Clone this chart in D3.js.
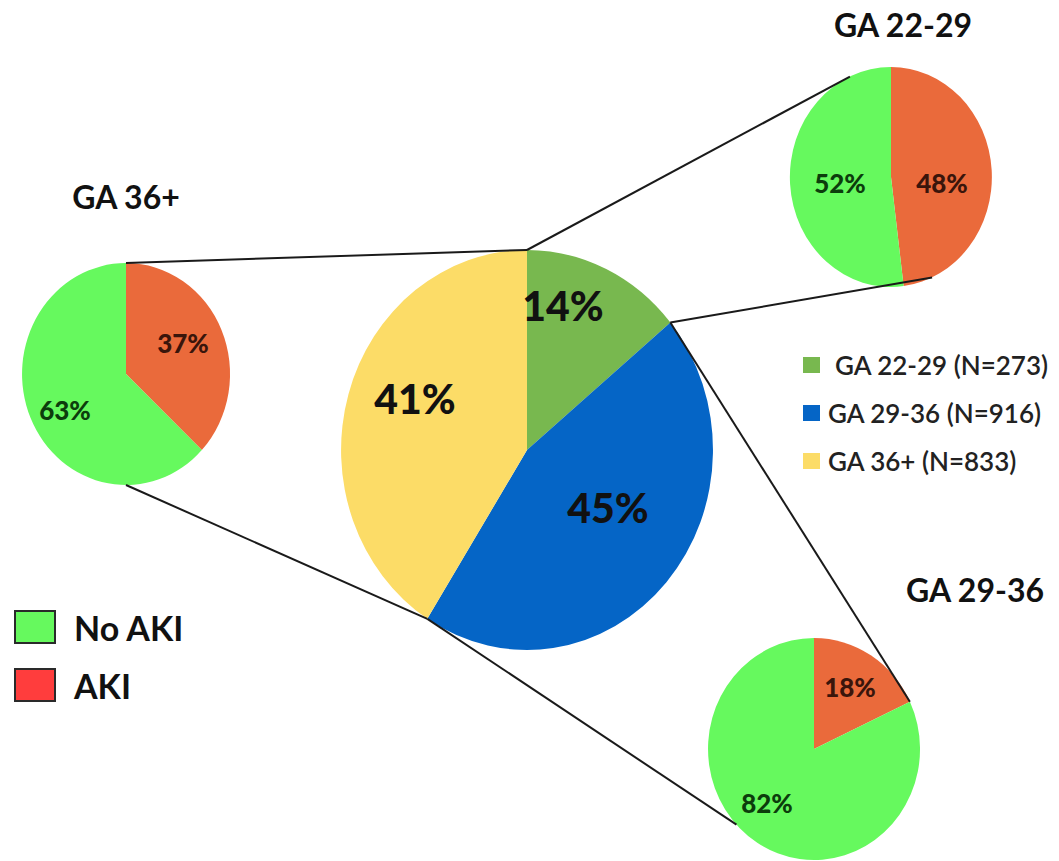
<!DOCTYPE html>
<html>
<head>
<meta charset="utf-8">
<script src="https://cdn.jsdelivr.net/npm/d3@7"></script>
<style>
  html, body { margin: 0; padding: 0; background: #fff; }
  svg { display: block; }
  text { font-family: Lato, "Open Sans", sans-serif; }
</style>
</head>
<body>
<svg id="chart" width="1059" height="861"></svg>
<script>
// Share of births by gestational-age group
const groupNames  = ["GA 22-29", "GA 29-36", "GA 36+"];
const groupCounts = [273, 916, 833];
const groupShares = [14, 45, 41];

// AKI breakdown inside each group (AKI first, then No AKI)
const akiStatus   = ["AKI", "No AKI"];
const akiShares = {
  "GA 22-29": [48, 52],
  "GA 29-36": [18, 82],
  "GA 36+":   [37, 63]
};

const groupColors = ["#78b84f", "#0565c6", "#fcdc67"];
const akiColors   = ["#ea6a3b", "#66f95e"];
const akiLegendColors = ["#ff3d3d", "#66f95e"];
const akiLabelColors  = ["#3a150b", "#0c3d0c"];

const svg = d3.select("#chart");

// Pie layout: centre and (slightly oval) radii
const mainPie = { cx: 527, cy: 450, rx: 186, ry: 200 };
const subPies = {
  "GA 22-29": { cx: 891, cy: 177, rx: 101, ry: 110, title: [903, 24], labels: [[942, 183], [840, 183]] },
  "GA 29-36": { cx: 814, cy: 749, rx: 106, ry: 111, title: [975, 589], labels: [[850, 687], [767, 803]] },
  "GA 36+":   { cx: 126, cy: 374, rx: 104, ry: 111, title: [126, 196], labels: [[183, 343], [65, 410]] }
};
const mainLabelPos = [[563, 305], [608, 507], [415, 398]];

const pie = d3.pie().sort(null).value(d => d);
const unitArc = d3.arc().innerRadius(0).outerRadius(1);

// point on an oval pie rim at angle a (radians, clockwise from 12 o'clock)
function rim(p, a) {
  return [p.cx + p.rx * Math.sin(a), p.cy - p.ry * Math.cos(a)];
}

const mainArcs = pie(groupShares);

// connector lines: main-pie slice boundary -> point on the sub-pie rim
const subAngles = {
  "GA 22-29": [336, 156],
  "GA 29-36": [null, 227],
  "GA 36+":   [0, 180]
};
const toRad = d => d * Math.PI / 180;
const connectors = [];
// GA 22-29 wedge: its start (top) and end angle
connectors.push([rim(mainPie, mainArcs[0].startAngle), rim(subPies["GA 22-29"], toRad(subAngles["GA 22-29"][0]))]);
connectors.push([rim(mainPie, mainArcs[0].endAngle), rim(subPies["GA 22-29"], toRad(subAngles["GA 22-29"][1]))]);
// GA 29-36 wedge: its start joins the AKI/No AKI boundary of the sub pie
const sub2936 = pie(akiShares["GA 29-36"]);
connectors.push([rim(mainPie, mainArcs[1].startAngle), rim(subPies["GA 29-36"], sub2936[0].endAngle)]);
connectors.push([rim(mainPie, mainArcs[1].endAngle), rim(subPies["GA 29-36"], toRad(subAngles["GA 29-36"][1]))]);
// GA 36+ wedge
connectors.push([rim(mainPie, mainArcs[2].endAngle), rim(subPies["GA 36+"], toRad(subAngles["GA 36+"][0]))]);
connectors.push([rim(mainPie, mainArcs[2].startAngle), rim(subPies["GA 36+"], toRad(subAngles["GA 36+"][1]))]);

// main pie
const mg = svg.append("g")
  .attr("transform", `translate(${mainPie.cx},${mainPie.cy}) scale(${mainPie.rx},${mainPie.ry})`);
mg.selectAll("path").data(mainArcs).join("path")
  .attr("d", unitArc)
  .attr("fill", (d, i) => groupColors[i]);

svg.selectAll("text.main-label").data(mainArcs).join("text")
  .attr("class", "main-label")
  .attr("x", (d, i) => mainLabelPos[i][0])
  .attr("y", (d, i) => mainLabelPos[i][1])
  .attr("text-anchor", "middle")
  .attr("dominant-baseline", "central")
  .attr("font-size", 41)
  .attr("font-weight", 900)
  .attr("fill", "#111")
  .text(d => d.data + "%");

// sub pies
groupNames.forEach(name => {
  const p = subPies[name];
  const arcs = pie(akiShares[name]);
  svg.append("g")
    .attr("transform", `translate(${p.cx},${p.cy}) scale(${p.rx},${p.ry})`)
    .selectAll("path").data(arcs).join("path")
    .attr("d", unitArc)
    .attr("fill", (d, i) => akiColors[i]);

  svg.append("g").selectAll("text").data(arcs).join("text")
    .attr("x", (d, i) => p.labels[i][0])
    .attr("y", (d, i) => p.labels[i][1])
    .attr("text-anchor", "middle")
    .attr("dominant-baseline", "central")
    .attr("font-size", 26)
    .attr("font-weight", 900)
    .attr("fill", (d, i) => akiLabelColors[i])
    .text(d => d.data + "%");

  svg.append("text")
    .attr("x", p.title[0])
    .attr("y", p.title[1])
    .attr("text-anchor", "middle")
    .attr("dominant-baseline", "central")
    .attr("font-size", 32)
    .attr("font-weight", 700)
    .attr("fill", "#111")
    .text(name);
});

// connector lines
svg.append("g").selectAll("line").data(connectors).join("line")
  .attr("x1", d => d[0][0]).attr("y1", d => d[0][1])
  .attr("x2", d => d[1][0]).attr("y2", d => d[1][1])
  .attr("stroke", "#1a1a1a")
  .attr("stroke-width", 2);

// group legend (right)
const gl = svg.append("g").attr("transform", "translate(803,365)");
const glRows = gl.selectAll("g").data(groupNames).join("g")
  .attr("transform", (d, i) => `translate(0,${i * 48})`);
glRows.append("rect")
  .attr("x", 0).attr("y", -8).attr("width", 17).attr("height", 16)
  .attr("fill", (d, i) => groupColors[i]);
glRows.append("text")
  .attr("x", (d, i) => i === 0 ? 32 : 25)
  .attr("y", 0)
  .attr("dominant-baseline", "central")
  .attr("font-size", 26)
  .attr("font-weight", 600)
  .attr("fill", "#222")
  .text((d, i) => `${d} (N=${groupCounts[i]})`);

// AKI legend (bottom left)
const al = svg.append("g").attr("transform", "translate(14,610)");
const alRows = al.selectAll("g").data(akiStatus.slice().reverse()).join("g")
  .attr("transform", (d, i) => `translate(0,${i * 58})`);
alRows.append("rect")
  .attr("x", 1).attr("y", 1).attr("width", 40).attr("height", 32)
  .attr("fill", (d, i) => akiLegendColors[1 - i])
  .attr("stroke", "#2a2a2a").attr("stroke-width", 2);
alRows.append("text")
  .attr("x", 60).attr("y", 17)
  .attr("dominant-baseline", "central")
  .attr("font-size", 34)
  .attr("font-weight", 700)
  .attr("fill", "#111")
  .text(d => d);
</script>
</body>
</html>
